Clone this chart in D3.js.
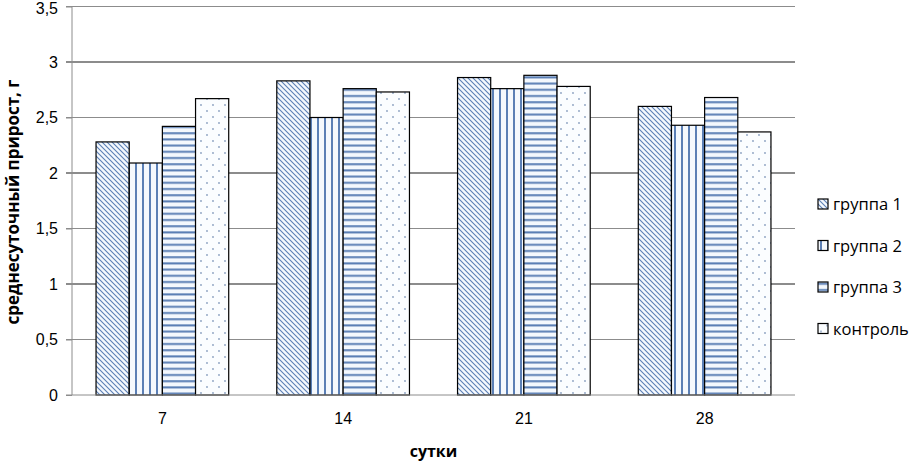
<!DOCTYPE html>
<html><head><meta charset="utf-8">
<script src="https://cdn.jsdelivr.net/npm/d3@7/dist/d3.min.js"></script>
<style>
body{margin:0;background:#fff;}
svg{font-family:"Open Sans","Liberation Sans",sans-serif;}
</style></head>
<body><svg id="c" width="915" height="464"></svg>
<script>
const categories = ["7","14","21","28"];
const seriesNames = ["группа 1","группа 2","группа 3","контроль"];
const group1 = [2.28, 2.83, 2.86, 2.60];
const group2 = [2.09, 2.50, 2.76, 2.43];
const group3 = [2.42, 2.76, 2.88, 2.68];
const control = [2.67, 2.73, 2.78, 2.37];
const yTicks = [0,0.5,1,1.5,2,2.5,3,3.5];
const yTickLabels = ["0","0,5","1","1,5","2","2,5","3","3,5"];
const seriesValues = [group1, group2, group3, control];

const svg = d3.select("#c");
const m = {l:72, r:795, t:6.5, b:395};
const x = d3.scaleBand().domain(categories).range([m.l, m.r]).paddingInner(0.266).paddingOuter(0.133);
const xs = d3.scaleBand().domain(seriesNames).range([0, x.bandwidth()]);
const y = d3.scaleLinear().domain([0,3.5]).range([m.b, m.t]);

const defs = svg.append("defs");
const lc = "#5b7fb5";
let p = defs.append("pattern").attr("id","p0").attr("patternUnits","userSpaceOnUse").attr("width",5).attr("height",5);
p.append("rect").attr("width",5).attr("height",5).attr("fill","#f4f8fd");
p.append("path").attr("d","M-1,-1 L6,6 M-1,4 L1,6 M4,-1 L6,1").attr("stroke",lc).attr("stroke-width",1.1);
p = defs.append("pattern").attr("id","p1").attr("patternUnits","userSpaceOnUse").attr("width",7).attr("height",7);
p.append("rect").attr("width",7).attr("height",7).attr("fill","#f4f8fd");
p.append("rect").attr("x",2).attr("width",2).attr("height",7).attr("fill",lc);
p = defs.append("pattern").attr("id","p2").attr("patternUnits","userSpaceOnUse").attr("width",7).attr("height",6.2);
p.append("rect").attr("width",7).attr("height",6.2).attr("fill","#f4f8fd");
p.append("rect").attr("y",2).attr("width",7).attr("height",2).attr("fill",lc);
p = defs.append("pattern").attr("id","p3").attr("patternUnits","userSpaceOnUse").attr("width",12).attr("height",12);
p.append("rect").attr("width",12).attr("height",12).attr("fill","#fbfdff");
p.append("circle").attr("cx",3).attr("cy",3).attr("r",0.9).attr("fill","#8a9fc0");
p.append("circle").attr("cx",9).attr("cy",9).attr("r",0.9).attr("fill","#8a9fc0");

svg.append("g").selectAll("line").data(yTicks.filter(d=>d>0)).join("line")
  .attr("x1",m.l-6).attr("x2",m.r).attr("y1",d=>y(d)).attr("y2",d=>y(d))
  .attr("stroke","#8c8c8c").attr("stroke-width",1.2).attr("shape-rendering","crispEdges");

const ya = d3.axisLeft(y).tickValues(yTicks).tickFormat((d,i)=>yTickLabels[i]).tickSize(6).tickPadding(8);
const gy = svg.append("g").attr("transform",`translate(${m.l},0)`).call(ya);
gy.select(".domain").attr("stroke","#8c8c8c").attr("d",`M0,${m.b}V${m.t}`);
gy.selectAll(".tick line").attr("stroke","#8c8c8c");
gy.selectAll("text").attr("font-size",16).attr("fill","#000");
gy.selectAll(".tick").filter(d=>d===3.5).select("text").attr("dy","0.42em");

seriesValues.forEach((vals,si)=>{
  svg.append("g").selectAll("rect").data(vals).join("rect")
    .attr("x",(d,i)=>x(categories[i])+xs(seriesNames[si]))
    .attr("width",xs.bandwidth())
    .attr("y",d=>y(d)).attr("height",d=>y(0)-y(d))
    .attr("fill",`url(#p${si})`).attr("stroke","#000").attr("stroke-width",1.2);
});

const xa = d3.axisBottom(x).tickSize(0).tickPadding(18);
const gx = svg.append("g").attr("transform",`translate(0,${m.b})`).call(xa);
gx.select(".domain").attr("stroke","#8c8c8c").attr("d",`M${m.l-6},0H${m.r}`);
gx.selectAll("text").attr("font-size",16).attr("fill","#000");

svg.append("text").attr("x",(m.l+m.r)/2).attr("y",457).attr("text-anchor","middle")
  .attr("font-size",16).attr("font-weight","bold").text("сутки");
svg.append("text").attr("transform","translate(19,202) rotate(-90)").attr("text-anchor","middle")
  .attr("font-size",17).attr("font-weight","bold").text("среднесуточный прирост, г");

const lg = svg.append("g").selectAll("g").data(seriesNames).join("g")
  .attr("transform",(d,i)=>`translate(818,${204+i*41.5})`);
lg.append("rect").attr("x",0).attr("y",-5).attr("width",10).attr("height",10)
  .attr("fill",(d,i)=>`url(#p${i})`).attr("stroke","#000").attr("stroke-width",1.2);
lg.append("text").attr("x",15).attr("y",6).attr("font-size",16.5).text(d=>d);
</script></body></html>
